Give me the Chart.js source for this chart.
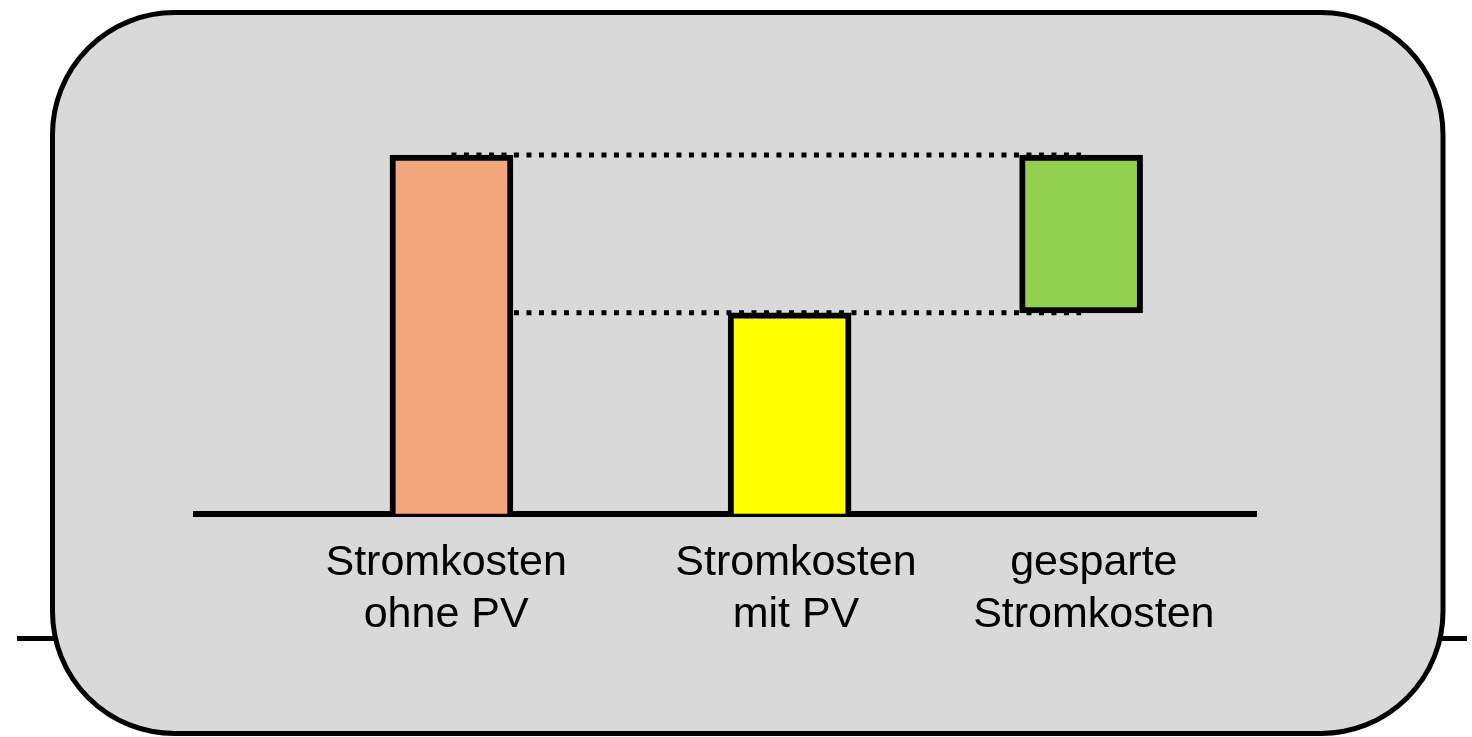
<!DOCTYPE html>
<html>
<head>
<meta charset="utf-8">
<script src="https://cdn.jsdelivr.net/npm/chart.js@4/dist/chart.umd.min.js"></script>
<style>
  body { margin: 0; background: #fff; }
</style>
</head>
<body>
<canvas id="chart" width="1472" height="737"></canvas>
<script>
// data (arbitrary units, top of left bar = 100)
const categories = [['Stromkosten', 'ohne PV'], ['Stromkosten', 'mit PV'], ['gesparte', 'Stromkosten']];
const barLow = [0, 0, 56];
const barHigh = [100, 56, 100];
const barColors = ['#f4a67c', '#ffff00', '#92d050'];

// layout: where each bar / label sits on the 0..10 x scale
const slotX = [2.41, 5.6, 8.35];
const labelX = [2.36, 5.66, 8.47];

const barData = [];
for (let i = 0; i < categories.length; i++) {
  barData.push({ x: slotX[i], y: [barLow[i], barHigh[i]] });
}

// dotted guide lines from the first bar to the last one
const topLine = [{ x: slotX[0], y: barHigh[0] }, { x: slotX[2], y: barHigh[2] }];
const midLine = [{ x: slotX[0], y: barHigh[1] }, { x: slotX[2], y: barLow[2] }];

const frame = {
  id: 'frame',
  beforeDraw(chart) {
    const ctx = chart.ctx;
    ctx.save();
    // the short horizontal strokes left and right of the box
    ctx.strokeStyle = '#000';
    ctx.lineWidth = 5;
    ctx.beginPath();
    ctx.moveTo(17, 638.5);
    ctx.lineTo(1467, 638.5);
    ctx.stroke();
    // rounded box
    ctx.beginPath();
    ctx.roundRect(52.5, 12.5, 1390.5, 721, 122);
    ctx.fillStyle = '#d9d9d9';
    ctx.fill();
    ctx.stroke();
    ctx.restore();
  }
};

const lineStyle = {
  type: 'line',
  borderColor: '#000',
  borderWidth: 5,
  borderDash: [5, 7.5],
  borderCapStyle: 'butt',
  pointRadius: 0,
  fill: false,
  clip: false,
  order: 1
};

new Chart(document.getElementById('chart'), {
  type: 'bar',
  data: {
    datasets: [
      {
        data: barData,
        backgroundColor: barColors,
        borderColor: '#000',
        borderWidth: 6,
        borderSkipped: c => (barLow[c.dataIndex] === 0 ? 'bottom' : false),
        barThickness: 123,
        clip: false,
        order: 0
      },
      Object.assign({ data: topLine }, lineStyle),
      Object.assign({ data: midLine }, lineStyle)
    ]
  },
  options: {
    responsive: false,
    devicePixelRatio: 1,
    animation: false,
    layout: { padding: { left: 196, right: 216, top: 155, bottom: 72 } },
    plugins: { legend: { display: false }, tooltip: { enabled: false } },
    scales: {
      x: {
        type: 'linear',
        min: 0,
        max: 10,
        offset: false,
        grid: { display: false, drawTicks: false },
        border: { display: true, color: '#000', width: 6 },
        afterBuildTicks: axis => {
          axis.ticks = labelX.map(v => ({ value: v }));
        },
        ticks: {
          autoSkip: false,
          maxRotation: 0,
          padding: 24,
          color: '#000',
          font: { family: '"Liberation Sans", Arial, sans-serif', size: 43, lineHeight: 1.2 },
          callback: (value, index) => categories[index]
        }
      },
      y: {
        display: false,
        min: 0,
        max: 100
      }
    }
  },
  plugins: [frame]
});
</script>
</body>
</html>
